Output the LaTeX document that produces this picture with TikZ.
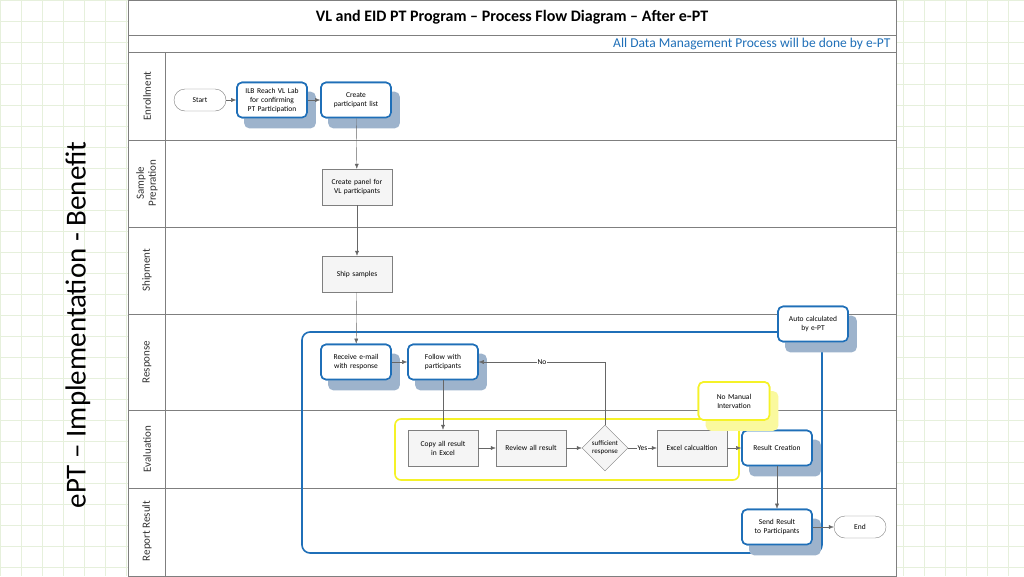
\documentclass[tikz,border=0pt]{standalone}
\usepackage{fontspec}
\setmainfont{Carlito}
\usetikzlibrary{shapes.geometric,arrows.meta}
\hyphenpenalty=10000
\definecolor{bl}{HTML}{1F6FB8}
\definecolor{sh}{HTML}{9DB3CC}
\definecolor{gr}{HTML}{E6F0DC}
\definecolor{ln}{HTML}{7F7F7F}
\definecolor{yl}{HTML}{F5F228}
\tikzset{
 base/.style={font=\fontsize{7.5}{9}\selectfont, align=center, text width=64pt, inner sep=1pt},
 proc/.style={base, draw=ln, fill=gray!8, minimum width=70pt, minimum height=36pt},
 blue/.style={base, draw=bl, line width=1.6pt, rounded corners=5pt, fill=white, minimum width=70pt, minimum height=35pt},
 term/.style={base, text width=40pt, draw=ln, rounded corners=11pt, fill=white, minimum width=52pt, minimum height=22pt},
 arr/.style={draw=ln!80!black, -{Latex[length=5pt,width=4pt]}},
 lane/.style={rotate=90, font=\fontsize{11}{12}\selectfont, align=center, text=black!80},
 lbl/.style={fill=white, inner sep=1pt, font=\fontsize{7.5}{8}\selectfont}
}
\newcommand{\shad}[2]{\fill[#2, rounded corners=5pt] ([shift={(8pt,-10pt)}]#1.south west) rectangle ([shift={(8pt,-10pt)}]#1.north east);}
\begin{document}
\begin{tikzpicture}[x=1pt,y=-1pt]
\useasboundingbox (0,0) rectangle (1024,576);
\draw[gr, step=21pt] (0,0) grid (1024,576);
% frame
\fill[white] (128,0) rectangle (896,576);
\draw[ln] (128,0) rectangle (896,576);
\draw[ln] (128,35) -- (896,35) (128,52) -- (896,52);
\draw[ln] (165,52) -- (165,576);
\foreach \y in {140,227,314,410,488} \draw[ln] (128,\y) -- (896,\y);
\node[font=\bfseries\fontsize{16}{18}\selectfont] (title) at (512,17) {VL and EID PT Program -- Process Flow Diagram -- After e-PT};
\node[font=\fontsize{13.5}{15}\selectfont, text=bl, anchor=east] (sub) at (894,44) {All Data Management Process will be done by e-PT};
\node[lane] (l1) at (147,96) {Enrollment};
\node[lane] (l2) at (147,183) {Sample\\Prepration};
\node[lane] (l3) at (147,270) {Shipment};
\node[lane] (l4) at (147,362) {Response};
\node[lane] (l5) at (147,449) {Evaluation};
\node[lane] (l6) at (147,531) {Report Result};
\node[rotate=90, font=\fontsize{29}{31}\selectfont] (side) at (78,325) {ePT -- Implementation - Benefit};
% big frames
\draw[bl, line width=1.6pt, rounded corners=8pt] (302,332) rectangle (822,553);
\draw[yl, line width=1.6pt, rounded corners=6pt] (395,419) rectangle (739,480);
% nodes
\node[term] (start) at (200,100) {Start};
\node[blue] (ilb) at (272,100) {ILB Reach VL Lab for confirming PT Participation};
\node[blue] (cpl) at (356,100) {Create participant list};
\node[proc] (panel) at (357,187) {Create panel for VL participants};
\node[proc] (ship) at (357,274) {Ship samples};
\node[blue] (recv) at (356,362) {Receive e-mail with response};
\node[blue] (follow) at (443,362) {Follow with participants};
\node[blue] (auto) at (813,324) {Auto calculated by e-PT};
\node[proc] (copy) at (443,448) {Copy all result in Excel};
\node[proc] (rev) at (531,448) {Review all result};
\node[base, font=\fontsize{7}{8}\selectfont, text width=32pt, draw=ln, fill=gray!8, diamond, minimum width=44pt, minimum height=40pt, inner sep=0pt] (suf) at (605,448) {sufficient response};
\node[proc] (xl) at (692,448) {Excel calcualtion};
\node[blue] (rc) at (777,448) {Result Creation};
\node[blue] (send) at (777,527) {Send Result to Participants};
\node[term] (end) at (860,527) {End};
% shadows drawn then nodes redrawn
\foreach \n in {ilb,cpl,recv,follow,auto,rc,send} {\shad{\n}{sh}}
\node[blue] at (ilb) {ILB Reach VL Lab for confirming PT Participation};
\node[blue] at (cpl) {Create participant list};
\node[blue] at (recv) {Receive e-mail with response};
\node[blue] at (follow) {Follow with participants};
\node[blue] at (auto) {Auto calculated by e-PT};
\node[blue] at (rc) {Result Creation};
\node[blue] at (send) {Send Result to Participants};
\node[base, draw=yl, line width=1.6pt, fill=white, rounded corners=5pt, minimum width=71pt, minimum height=38pt] (nmi) at (734,401) {No Manual Intervation};
\fill[yl!45, rounded corners=5pt] ([shift={(8pt,-10pt)}]nmi.south west) rectangle ([shift={(8pt,-10pt)}]nmi.north east);
\node[base, draw=yl, line width=1.6pt, fill=white, rounded corners=5pt, minimum width=71pt, minimum height=38pt] at (nmi) {No Manual Intervation};
% connectors
\draw[arr] (start) -- (ilb);
\draw[arr] (ilb) -- (cpl);
\draw[arr] (cpl) -- (panel);
\draw[arr] (panel) -- (ship);
\draw[arr] (ship) -- (recv);
\draw[arr] (recv) -- (follow);
\draw[arr] (follow) -- (copy);
\draw[arr] (copy) -- (rev);
\draw[arr] (rev) -- (suf);
\draw[arr] (suf) -- node[lbl]{Yes} (xl);
\draw[arr] (suf.north) |- node[lbl, pos=0.75]{No} (follow.east);
\draw[arr] (xl) -- (rc);
\draw[arr] (rc) -- (send);
\draw[arr] (send) -- (end);
\end{tikzpicture}
\end{document}
